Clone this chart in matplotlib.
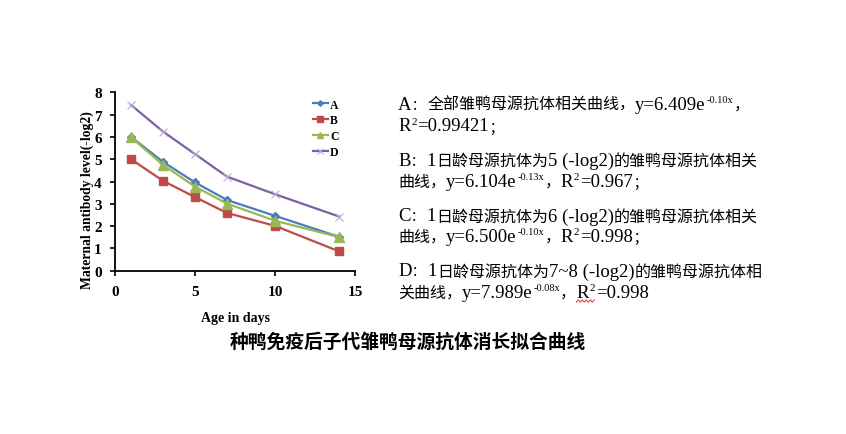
import matplotlib
matplotlib.use('Agg')
import matplotlib.pyplot as plt
from matplotlib.transforms import IdentityTransform
from matplotlib.font_manager import FontProperties, findfont, get_font
from matplotlib.lines import Line2D

# dados
dias = [1, 3, 5, 7, 10, 14]
nivel_a = [6.0, 4.88, 3.96, 3.17, 2.46, 1.52]
nivel_b = [5.0, 4.03, 3.30, 2.59, 2.01, 0.87]
nivel_c = [5.98, 4.75, 3.77, 3.01, 2.24, 1.51]
nivel_d = [7.43, 6.24, 5.23, 4.22, 3.43, 2.43]
nomes_series = ['A', 'B', 'C', 'D']
ticks_x = [0, 5, 10, 15]
ticks_y = [0, 1, 2, 3, 4, 5, 6, 7, 8]

titulo = '种鸭免疫后子代雏鸭母源抗体消长拟合曲线'
rotulo_x = 'Age in days'
rotulo_y = 'Maternal antibody level(-log2)'

# cada linha: lista de (texto, sobrescrito)
notas = [
    [('A：全部雏鸭母源抗体相关曲线，y=6.409e', False), ('-0.10x', True), ('，', False)],
    [('R', False), ('2', True), ('=0.99421；', False)],
    [('B：1日龄母源抗体为5 (-log2)的雏鸭母源抗体相关', False)],
    [('曲线，y=6.104e', False), ('-0.13x', True), ('，R', False), ('2', True), ('=0.967；', False)],
    [('C：1日龄母源抗体为6 (-log2)的雏鸭母源抗体相关', False)],
    [('曲线，y=6.500e', False), ('-0.10x', True), ('，R', False), ('2', True), ('=0.998；', False)],
    [('D：1日龄母源抗体为7~8 (-log2)的雏鸭母源抗体相', False)],
    [('关曲线，y=7.989e', False), ('-0.08x', True), ('，', False), ('R', False), ('2', True), ('=0.998', False)],
]
baselines = [110, 131.5, 166, 187, 221.5, 242, 276.5, 298]

SERIF = 'Liberation Serif'
CJK = 'Noto Sans CJK SC'
W, H, DPI = 846, 435, 100
TAM_CJK = 11.5
TAM_LAT = 13.5
PONTOS = {'：': ':', '；': ';'}


def eh_cjk(ch):
    return ord(ch) >= 0x2E80


def quebrar(texto):
    # separa em trechos latinos / chineses; ： e ； ficam sozinhos
    partes = []
    atual = ''
    tipo = None
    for ch in texto:
        t = 'p' if ch in PONTOS else eh_cjk(ch)
        if tipo is None or (t == tipo and t != 'p'):
            atual += ch
        else:
            partes.append((atual, tipo))
            atual = ch
        tipo = t
    if atual:
        partes.append((atual, tipo))
    return partes


def avanco(texto, familia, tamanho):
    fp = FontProperties(family=familia, size=tamanho)
    font = get_font(findfont(fp))
    font.set_size(tamanho, DPI)
    total = 0.0
    for ch in texto:
        total += font.load_char(ord(ch)).linearHoriAdvance / 65536
    return total


def escrever_linha(fig, x, y_img, runs):
    y = H - y_img
    posicoes = []
    for texto, sup in runs:
        if sup:
            tam_sup = 8 if texto == '2' else 7.5
            segs = [(texto, SERIF, tam_sup, 6.5)]
        else:
            segs = []
            for s, c in quebrar(texto):
                if c == 'p' or c:
                    segs.append((s, CJK, TAM_CJK, 0))
                else:
                    segs.append((s, SERIF, TAM_LAT, 0))
        for s, fam, tam, dy in segs:
            adv = avanco(s, fam, tam)
            if s in PONTOS:
                # pontuacao chinesa encostada a esquerda, como no original
                desenho = PONTOS[s]
                xd = x + 1.5
            else:
                desenho = s
                xd = x
            if dy:
                xd += 1.2
                adv += 1.2
            fig.text(xd, y + dy, desenho, transform=IdentityTransform(),
                     fontsize=tam, family=fam, va='baseline', ha='left', color='black')
            posicoes.append((s, x, adv))
            x += adv
    return posicoes


fig = plt.figure(figsize=(W / DPI, H / DPI), dpi=DPI)
ax = fig.add_axes([115 / W, (H - 271.7) / H, 240 / W, 178.4 / H])

ax.plot(dias, nivel_a, color='#4A7EBB', lw=1.6, marker='D', ms=4, label=nomes_series[0])
ax.plot(dias, nivel_b, color='#BE4B48', lw=1.6, marker='s', ms=6, label=nomes_series[1])
ax.plot(dias, nivel_c, color='#98B954', lw=1.6, marker='^', ms=6.5, label=nomes_series[2])
ax.plot(dias, nivel_d, color='#7D60A0', lw=1.6, marker='x', ms=6, mew=0.8,
        mec='#BBAAD6', label=nomes_series[3])

ax.set_xlim(0, 15)
ax.set_ylim(0, 8)
ax.set_xticks(ticks_x)
ax.set_yticks(ticks_y)
for lado in ['top', 'right']:
    ax.spines[lado].set_visible(False)
for lado in ['left', 'bottom']:
    ax.spines[lado].set_linewidth(1.3)
ax.tick_params(direction='out', length=3.5, width=1.2)
ax.tick_params(axis='x', pad=7)
ax.tick_params(axis='y', pad=6)
for lab in ax.get_xticklabels() + ax.get_yticklabels():
    lab.set_family(SERIF)
    lab.set_fontweight('bold')
    lab.set_fontsize(11)

ax.set_xlabel(rotulo_x, family=SERIF, fontweight='bold', fontsize=10, labelpad=9)
ax.set_ylabel(rotulo_y, family=SERIF, fontweight='bold', fontsize=9.8)
ax.yaxis.label.set_va('center')
ax.yaxis.set_label_coords((87 - 115) / 240, (271.7 - 200) / 178.4)

leg = ax.legend(loc='upper left', bbox_to_anchor=(0.825, 0.965), frameon=False,
                prop={'family': SERIF, 'weight': 'bold', 'size': 8.5},
                handlelength=1.25, handletextpad=0.2, labelspacing=0.32,
                borderpad=0, borderaxespad=0, markerscale=0.7)

fig.text(408 / W, (H - 342) / H, titulo, family=CJK, fontweight='bold', fontsize=13.5,
         ha='center', va='center')

x0 = 398
for i, runs in enumerate(notas):
    pos = escrever_linha(fig, x0, baselines[i], runs)
    if i == len(notas) - 1:
        # sublinhado ondulado vermelho sob o R2
        r = [p for p in pos if p[0] == 'R'][0]
        fim = [p for p in pos if p[0] == '2'][-1]
        xa, xb = r[1], fim[1] + fim[2]
        yb = H - baselines[i] - 4
        xs, ys = [], []
        k = 0
        xx = xa
        while xx <= xb:
            xs.append(xx)
            ys.append(yb + (1.2 if k % 2 else -1.2))
            xx += 2
            k += 1
        fig.add_artist(Line2D(xs, ys, transform=IdentityTransform(), color='#E03030', lw=0.7))

fig.savefig('out.png', dpi=DPI)
